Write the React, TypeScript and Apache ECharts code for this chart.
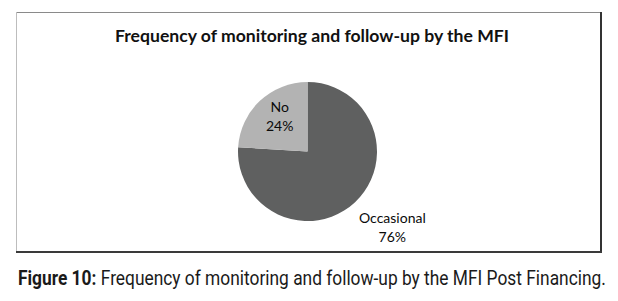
import React, { useEffect, useRef } from "react";
import * as echarts from "echarts";

const categories = ["Occasional", "No"];
const values = [76, 24];
const colors = ["#5f6060", "#b3b3b3"];
const titleText = "Frequency of monitoring and follow-up by the MFI";
const captionBold = "Figure 10:";
const captionRest = " Frequency of monitoring and follow-up by the MFI Post Financing.";

export default function App() {
  const ref = useRef<HTMLDivElement>(null);
  useEffect(() => {
    if (!ref.current) return;
    const chart = echarts.init(ref.current, null, { renderer: "svg" });
    const labelShift: Record<string, [number, number]> = {
      Occasional: [59, 48],
      No: [-2, -8],
    };
    chart.setOption({
      animation: false,
      backgroundColor: "#ffffff",
      title: {
        text: titleText,
        left: 307,
        top: 21,
        padding: 5,
        textAlign: "center",
        textStyle: { fontFamily: "Lato", fontWeight: "bold", fontSize: 17.6, color: "#111" },
      },
      graphic: [
        { type: "line", shape: { x1: 16, y1: 12.5, x2: 601, y2: 12.5 }, style: { stroke: "#8a8a8a", lineWidth: 1 } },
        { type: "line", shape: { x1: 16.5, y1: 12, x2: 16.5, y2: 252 }, style: { stroke: "#bdbdbd", lineWidth: 1 } },
        { type: "line", shape: { x1: 601, y1: 12, x2: 601, y2: 253 }, style: { stroke: "#333", lineWidth: 2 } },
        { type: "line", shape: { x1: 16, y1: 252, x2: 602, y2: 252 }, style: { stroke: "#3a3a3a", lineWidth: 2 } },
        {
          type: "text",
          x: 18,
          y: 278,
          scaleX: 0.827,
          style: {
            text: "{b|" + captionBold + "}{r|" + captionRest + "}",
            textVerticalAlign: "middle",
            rich: {
              b: { fontFamily: "Roboto", fontWeight: "bold", fontSize: 21, fill: "#1a1a1a" },
              r: { fontFamily: "Roboto", fontSize: 21, fill: "#1a1a1a" },
            },
          },
        },
      ],
      series: [
        {
          type: "pie",
          center: [307.5, 151.5],
          radius: [0, 69.5],
          startAngle: 90,
          clockwise: true,
          silent: true,
          itemStyle: { borderWidth: 0 },
          label: {
            show: true,
            position: "inside",
            formatter: "{b}\n{d}%",
            fontFamily: "Lato",
            fontSize: 14,
            lineHeight: 19,
            color: "#0a0a0a",
            align: "center",
          },
          labelLine: { show: false },
          labelLayout: (p: any) => {
            const s = labelShift[categories[p.dataIndex]] || [0, 0];
            return { dx: s[0], dy: s[1] };
          },
          data: categories.map((c, i) => ({
            name: c,
            value: values[i],
            itemStyle: { color: colors[i] },
          })),
        },
      ],
    });
    return () => chart.dispose();
  }, []);
  return (
    <div
      ref={ref}
      style={{ position: "fixed", left: 0, top: 0, width: 618, height: 301 }}
    />
  );
}
